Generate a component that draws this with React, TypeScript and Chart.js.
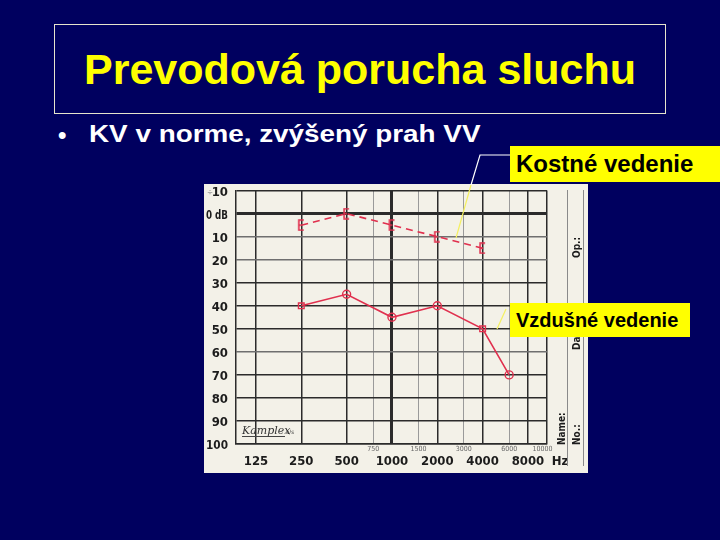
import React, { useEffect, useRef } from "react";
import { Chart, registerables } from "chart.js";

Chart.register(...registerables);

// ---- data ----
const boneFreqs = [250, 500, 1000, 2000, 4000];
const boneDb = [5, 0, 5, 10, 15];
const airFreqs = [250, 500, 1000, 2000, 4000, 6000];
const airDb = [40, 35, 45, 40, 50, 70];
const mainFreqs = [125, 250, 500, 1000, 2000, 4000, 8000];
const mainFreqLabels = ["125", "250", "500", "1000", "2000", "4000", "8000"];
const interFreqs = [750, 1500, 3000, 6000];
const interFreqLabels = ["750", "1500", "3000", "6000"];
const extraFreqLabel = { freq: 10000, label: "10000" };
const dbTicks = [-10, 0, 10, 20, 30, 40, 50, 60, 70, 80, 90, 100];
const dbLabels = ["10", "0 dB", "10", "20", "30", "40", "50", "60", "70", "80", "90", "100"];

const TITLE = "Prevodová porucha sluchu";
const BULLET = "KV v norme, zvýšený prah VV";
const LABEL_BONE = "Kostné vedenie";
const LABEL_AIR = "Vzdušné vedenie";

const X_MIN = -0.44;
const X_MAX = 6.42;
const oct = (f: number) => Math.log2(f / 125);

const RED = "#e0304e";
const PAPER = "#f3f1e8";
const FONT = "'DejaVu Sans Condensed', 'Liberation Sans Narrow', 'Liberation Sans', Arial, sans-serif";

export default function App() {
  const ref = useRef<HTMLCanvasElement | null>(null);

  useEffect(() => {
    const canvas = ref.current;
    if (!canvas) return;

    // bracket marker for bone conduction
    const mk = document.createElement("canvas");
    mk.width = 9;
    mk.height = 12;
    const mc = mk.getContext("2d")!;
    mc.strokeStyle = RED;
    mc.lineWidth = 1.6;
    mc.beginPath();
    mc.moveTo(7, 1);
    mc.lineTo(2, 1);
    mc.lineTo(2, 11);
    mc.lineTo(7, 11);
    mc.moveTo(2, 6);
    mc.lineTo(5, 6);
    mc.stroke();

    const xGrid = [...mainFreqs, ...interFreqs].map(oct).concat([X_MAX]);
    const interOct = interFreqs.map(oct);
    const isInter = (v: number) => interOct.some((o) => Math.abs(o - v) < 1e-6);

    const paperPlugin = {
      id: "paper",
      beforeDraw(chart: any) {
        const { ctx, width, height } = chart;
        ctx.save();
        ctx.fillStyle = PAPER;
        ctx.fillRect(0, 0, width, height);
        ctx.restore();
      },
      afterDraw(chart: any) {
        const { ctx } = chart;
        const xs = chart.scales.x;
        const ys = chart.scales.y;
        ctx.save();
        ctx.fillStyle = "#1c1c1c";
        // y labels
        ctx.font = `bold 13px ${FONT}`;
        ctx.textAlign = "right";
        ctx.textBaseline = "middle";
        dbTicks.forEach((v, i) => {
          ctx.fillText(dbLabels[i], 24, ys.getPixelForValue(v) + 2, 22);
        });
        ctx.fillStyle = "#999";
        ctx.font = `8px ${FONT}`;
        ctx.fillText("÷", 9, ys.getPixelForValue(-10) + 2);
        // x main labels
        ctx.fillStyle = "#1c1c1c";
        ctx.font = `bold 13px ${FONT}`;
        ctx.textAlign = "center";
        mainFreqs.forEach((f, i) => {
          ctx.fillText(mainFreqLabels[i], xs.getPixelForValue(oct(f)), 278);
        });
        ctx.fillText("Hz", 356, 278);
        // x small labels
        ctx.fillStyle = "#666";
        ctx.font = `7px ${FONT}`;
        interFreqs.forEach((f, i) => {
          ctx.fillText(interFreqLabels[i], xs.getPixelForValue(oct(f)), 265);
        });
        ctx.fillText(extraFreqLabel.label, xs.getPixelForValue(oct(extraFreqLabel.freq)), 265);
        // right strip
        ctx.strokeStyle = "#8a8a8a";
        ctx.lineWidth = 1;
        ctx.beginPath();
        ctx.moveTo(363.5, 6);
        ctx.lineTo(363.5, 282);
        ctx.moveTo(379.5, 6);
        ctx.lineTo(379.5, 282);
        ctx.stroke();
        ctx.fillStyle = "#1c1c1c";
        ctx.font = `bold 10px ${FONT}`;
        ctx.textAlign = "left";
        ctx.textBaseline = "alphabetic";
        const rot = (t: string, x: number, y: number) => {
          ctx.save();
          ctx.translate(x, y);
          ctx.rotate(-Math.PI / 2);
          ctx.fillText(t, 0, 0);
          ctx.restore();
        };
        rot("Op.:", 376, 74);
        rot("Datum:", 376, 166);
        rot("Name:", 361, 261);
        rot("No.:", 376, 261);
        // logo
        ctx.fillStyle = "#333";
        ctx.font = `italic 11px 'DejaVu Serif', serif`;
        ctx.fillText("Kamplex", 38, 250);
        ctx.font = `6px ${FONT}`;
        ctx.fillText("a/s", 82, 250);
        ctx.strokeStyle = "#444";
        ctx.beginPath();
        ctx.moveTo(38, 252.5);
        ctx.lineTo(81, 252.5);
        ctx.stroke();
        ctx.restore();
      },
    };

    const chart = new Chart(canvas, {
      type: "line",
      data: {
        datasets: [
          {
            label: LABEL_BONE,
            data: boneFreqs.map((f, i) => ({ x: oct(f), y: boneDb[i] })),
            borderColor: RED,
            borderWidth: 1.6,
            borderDash: [7, 5],
            pointStyle: mk as any,
            pointRadius: 5,
            fill: false,
            tension: 0,
          },
          {
            label: LABEL_AIR,
            data: airFreqs.map((f, i) => ({ x: oct(f), y: airDb[i] })),
            borderColor: RED,
            borderWidth: 1.6,
            pointStyle: ["rect", "circle", "circle", "circle", "rect", "circle"] as any,
            pointRadius: 4,
            pointBorderWidth: 1.4,
            pointBorderColor: RED,
            pointBackgroundColor: "rgba(0,0,0,0)",
            fill: false,
            tension: 0,
          },
        ],
      },
      options: {
        animation: false,
        responsive: false,
        events: [],
        layout: { padding: { left: 32, right: 41, top: 6, bottom: 29 } },
        plugins: { legend: { display: false }, tooltip: { enabled: false } },
        scales: {
          x: {
            type: "linear",
            min: X_MIN,
            max: X_MAX,
            afterBuildTicks: (scale: any) => {
              scale.ticks = xGrid.map((v) => ({ value: v }));
            },
            ticks: { display: false, autoSkip: false },
            grid: {
              drawTicks: false,
              color: (c: any) => (isInter(c.tick ? c.tick.value : 0) ? "#9a9a9a" : "#2b2b2b"),
              lineWidth: (c: any) => {
                const v = c.tick ? c.tick.value : 0;
                if (Math.abs(v - oct(1000)) < 1e-6) return 3;
                if (isInter(v)) return 1;
                return 1.5;
              },
            },
            border: { display: true, color: "#2b2b2b", width: 1.5 },
          },
          y: {
            type: "linear",
            reverse: true,
            min: -10,
            max: 100,
            ticks: { display: false, stepSize: 10 },
            grid: {
              drawTicks: false,
              color: (c: any) => {
                const v = c.tick ? c.tick.value : 0;
                return v === 10 || v === 20 || v === 60 ? "#6f6f6f" : "#2b2b2b";
              },
              lineWidth: (c: any) => (c.tick && c.tick.value === 0 ? 3 : 1.5),
            },
            border: { display: true, color: "#2b2b2b", width: 1.5 },
          },
        },
      },
      plugins: [paperPlugin],
    } as any);

    return () => chart.destroy();
  }, []);

  return (
    <div
      style={{
        position: "fixed",
        left: 0,
        top: 0,
        width: 720,
        height: 540,
        background: "#00005f",
        overflow: "hidden",
        fontFamily: "'Liberation Sans', Arial, sans-serif",
      }}
    >
      <div
        style={{
          position: "absolute",
          left: 54,
          top: 24,
          width: 612,
          height: 90,
          boxSizing: "border-box",
          border: "1px solid #e6e4cc",
          display: "flex",
          alignItems: "center",
          justifyContent: "center",
          color: "#ffff00",
          fontWeight: "bold",
          fontSize: 43,
          whiteSpace: "nowrap",
        }}
      >
        {TITLE}
      </div>
      <div style={{ position: "absolute", left: 58, top: 120, color: "#fff", fontWeight: "bold", fontSize: 24, lineHeight: "30px" }}>
        •
      </div>
      <div
        style={{
          position: "absolute",
          left: 89,
          top: 119,
          color: "#fff",
          fontWeight: "bold",
          fontSize: 24,
          lineHeight: "30px",
          whiteSpace: "nowrap",
          transform: "scaleX(1.16)",
          transformOrigin: "left center",
        }}
      >
        {BULLET}
      </div>
      <canvas
        ref={ref}
        width={384}
        height={289}
        style={{ position: "absolute", left: 204, top: 184, width: 384, height: 289 }}
      />
      <svg width={720} height={540} style={{ position: "absolute", left: 0, top: 0, pointerEvents: "none" }}>
        <polyline points="510,155 480,155 471,185" fill="none" stroke="#ffffff" strokeWidth={1.2} />
        <line x1={471} y1={185} x2={456} y2={238} stroke="#f4f060" strokeWidth={1.2} />
        <line x1={497} y1={329} x2={506} y2={309} stroke="#f4f060" strokeWidth={1.2} />
      </svg>
      <div
        style={{
          position: "absolute",
          left: 510,
          top: 146,
          width: 210,
          height: 36,
          background: "#ffff00",
          color: "#000",
          fontWeight: "bold",
          fontSize: 24,
          lineHeight: "36px",
          paddingLeft: 6,
          boxSizing: "border-box",
          whiteSpace: "nowrap",
        }}
      >
        {LABEL_BONE}
      </div>
      <div
        style={{
          position: "absolute",
          left: 510,
          top: 303,
          width: 180,
          height: 34,
          background: "#ffff00",
          color: "#000",
          fontWeight: "bold",
          fontSize: 20,
          lineHeight: "34px",
          paddingLeft: 6,
          boxSizing: "border-box",
          whiteSpace: "nowrap",
        }}
      >
        {LABEL_AIR}
      </div>
    </div>
  );
}
